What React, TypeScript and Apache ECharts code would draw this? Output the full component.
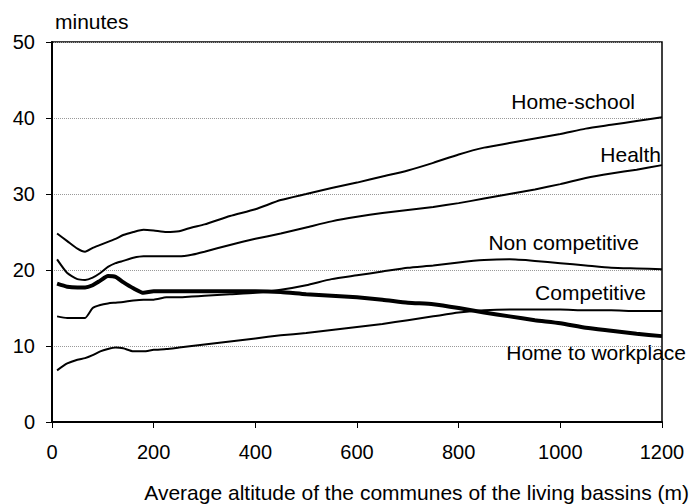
import React, { useEffect, useRef } from "react";
import * as echarts from "echarts";

const altitudes = [10, 30, 50, 65, 80, 95, 110, 125, 140, 160, 180, 200, 225, 250, 275, 300, 350, 400, 450, 500, 550, 600, 650, 700, 750, 800, 850, 900, 950, 1000, 1050, 1100, 1150, 1200];

const homeSchool = [24.8, 23.8, 22.8, 22.4, 22.9, 23.3, 23.7, 24.1, 24.6, 25.0, 25.3, 25.2, 25.0, 25.1, 25.6, 26.0, 27.1, 28.0, 29.2, 30.0, 30.8, 31.5, 32.3, 33.1, 34.1, 35.2, 36.1, 36.7, 37.3, 37.9, 38.6, 39.1, 39.6, 40.1];
const health = [21.4, 19.6, 18.8, 18.7, 19.0, 19.6, 20.4, 20.9, 21.2, 21.6, 21.8, 21.8, 21.8, 21.8, 22.0, 22.4, 23.3, 24.1, 24.8, 25.6, 26.4, 27.0, 27.5, 27.9, 28.3, 28.8, 29.4, 30.0, 30.6, 31.3, 32.1, 32.7, 33.2, 33.8];
const homeToWork = [18.2, 17.8, 17.7, 17.7, 18.0, 18.6, 19.2, 19.1, 18.4, 17.6, 17.0, 17.2, 17.2, 17.2, 17.2, 17.2, 17.2, 17.2, 17.1, 16.8, 16.6, 16.4, 16.1, 15.7, 15.5, 15.0, 14.4, 13.9, 13.4, 13.0, 12.4, 12.0, 11.6, 11.3];
const nonCompetitive = [13.9, 13.7, 13.7, 13.7, 15.0, 15.4, 15.6, 15.7, 15.8, 16.0, 16.1, 16.1, 16.4, 16.4, 16.5, 16.6, 16.8, 17.0, 17.4, 18.0, 18.8, 19.3, 19.8, 20.3, 20.6, 21.0, 21.3, 21.4, 21.2, 20.9, 20.6, 20.3, 20.2, 20.1];
const competitive = [6.8, 7.7, 8.2, 8.4, 8.8, 9.3, 9.6, 9.8, 9.7, 9.3, 9.3, 9.5, 9.6, 9.8, 10.0, 10.2, 10.6, 11.0, 11.4, 11.7, 12.1, 12.5, 12.9, 13.4, 13.9, 14.4, 14.7, 14.8, 14.8, 14.8, 14.7, 14.7, 14.6, 14.6];

const seriesNames = ["Home-school", "Health", "Home to workplace", "Non competitive", "Competitive"];
const seriesValues = [homeSchool, health, homeToWork, nonCompetitive, competitive];
const seriesWidths = [2, 2, 4, 2, 2];

const FONT = "'Liberation Sans', Arial, sans-serif";

export default function App() {
  const ref = useRef<HTMLDivElement>(null);
  useEffect(() => {
    if (!ref.current) return;
    const chart = echarts.init(ref.current, null, { renderer: "svg" });
    const textStyle = { fontFamily: FONT, fontSize: 21, fill: "#000" };
    chart.setOption({
      animation: false,
      backgroundColor: "#fff",
      grid: { left: 52, right: 32, top: 42, bottom: 82, show: true, borderColor: "#000", borderWidth: 1.5, backgroundColor: "transparent" },
      xAxis: {
        type: "value",
        min: 0,
        max: 1200,
        interval: 200,
        axisLine: { show: true, lineStyle: { color: "#000", width: 2 } },
        axisTick: { show: true, length: 6, lineStyle: { color: "#000", width: 1 } },
        axisLabel: { color: "#000", fontFamily: FONT, fontSize: 20, margin: 20, formatter: (v: number) => String(v) },
        splitLine: { show: false },
      },
      yAxis: {
        type: "value",
        min: 0,
        max: 50,
        interval: 10,
        axisLine: { show: true, lineStyle: { color: "#000", width: 2 } },
        axisTick: { show: true, length: 6, lineStyle: { color: "#000", width: 1 } },
        axisLabel: { color: "#000", fontFamily: FONT, fontSize: 20, margin: 17, formatter: (v: number) => String(v) },
        splitLine: { show: true, lineStyle: { color: "#999", width: 1, type: [1, 1] } },
      },
      series: seriesNames.map((name, i) => ({
        name,
        type: "line",
        data: altitudes.map((a, j) => [a, seriesValues[i][j]]),
        showSymbol: false,
        smooth: 0.2,
        lineStyle: { color: "#000", width: seriesWidths[i] },
        z: i === 2 ? 3 : 2,
      })),
      graphic: [
        { type: "text", x: 55, y: 21, style: { ...textStyle, text: "minutes", verticalAlign: "middle" } },
        { type: "text", x: 635, y: 101, style: { ...textStyle, text: "Home-school", align: "right", verticalAlign: "middle" } },
        { type: "text", x: 661, y: 154, style: { ...textStyle, text: "Health", align: "right", verticalAlign: "middle" } },
        { type: "text", x: 639, y: 242, style: { ...textStyle, text: "Non competitive", align: "right", verticalAlign: "middle" } },
        { type: "text", x: 646, y: 292, style: { ...textStyle, text: "Competitive", align: "right", verticalAlign: "middle" } },
        { type: "text", x: 686, y: 352, style: { ...textStyle, text: "Home to workplace", align: "right", verticalAlign: "middle" } },
        { type: "text", x: 689, y: 492, style: { ...textStyle, text: "Average altitude of the communes of the living bassins (m)", align: "right", verticalAlign: "middle" } },
      ],
    });
    return () => chart.dispose();
  }, []);
  return <div ref={ref} style={{ width: 694, height: 504, position: "absolute", left: 0, top: 0 }} />;
}
